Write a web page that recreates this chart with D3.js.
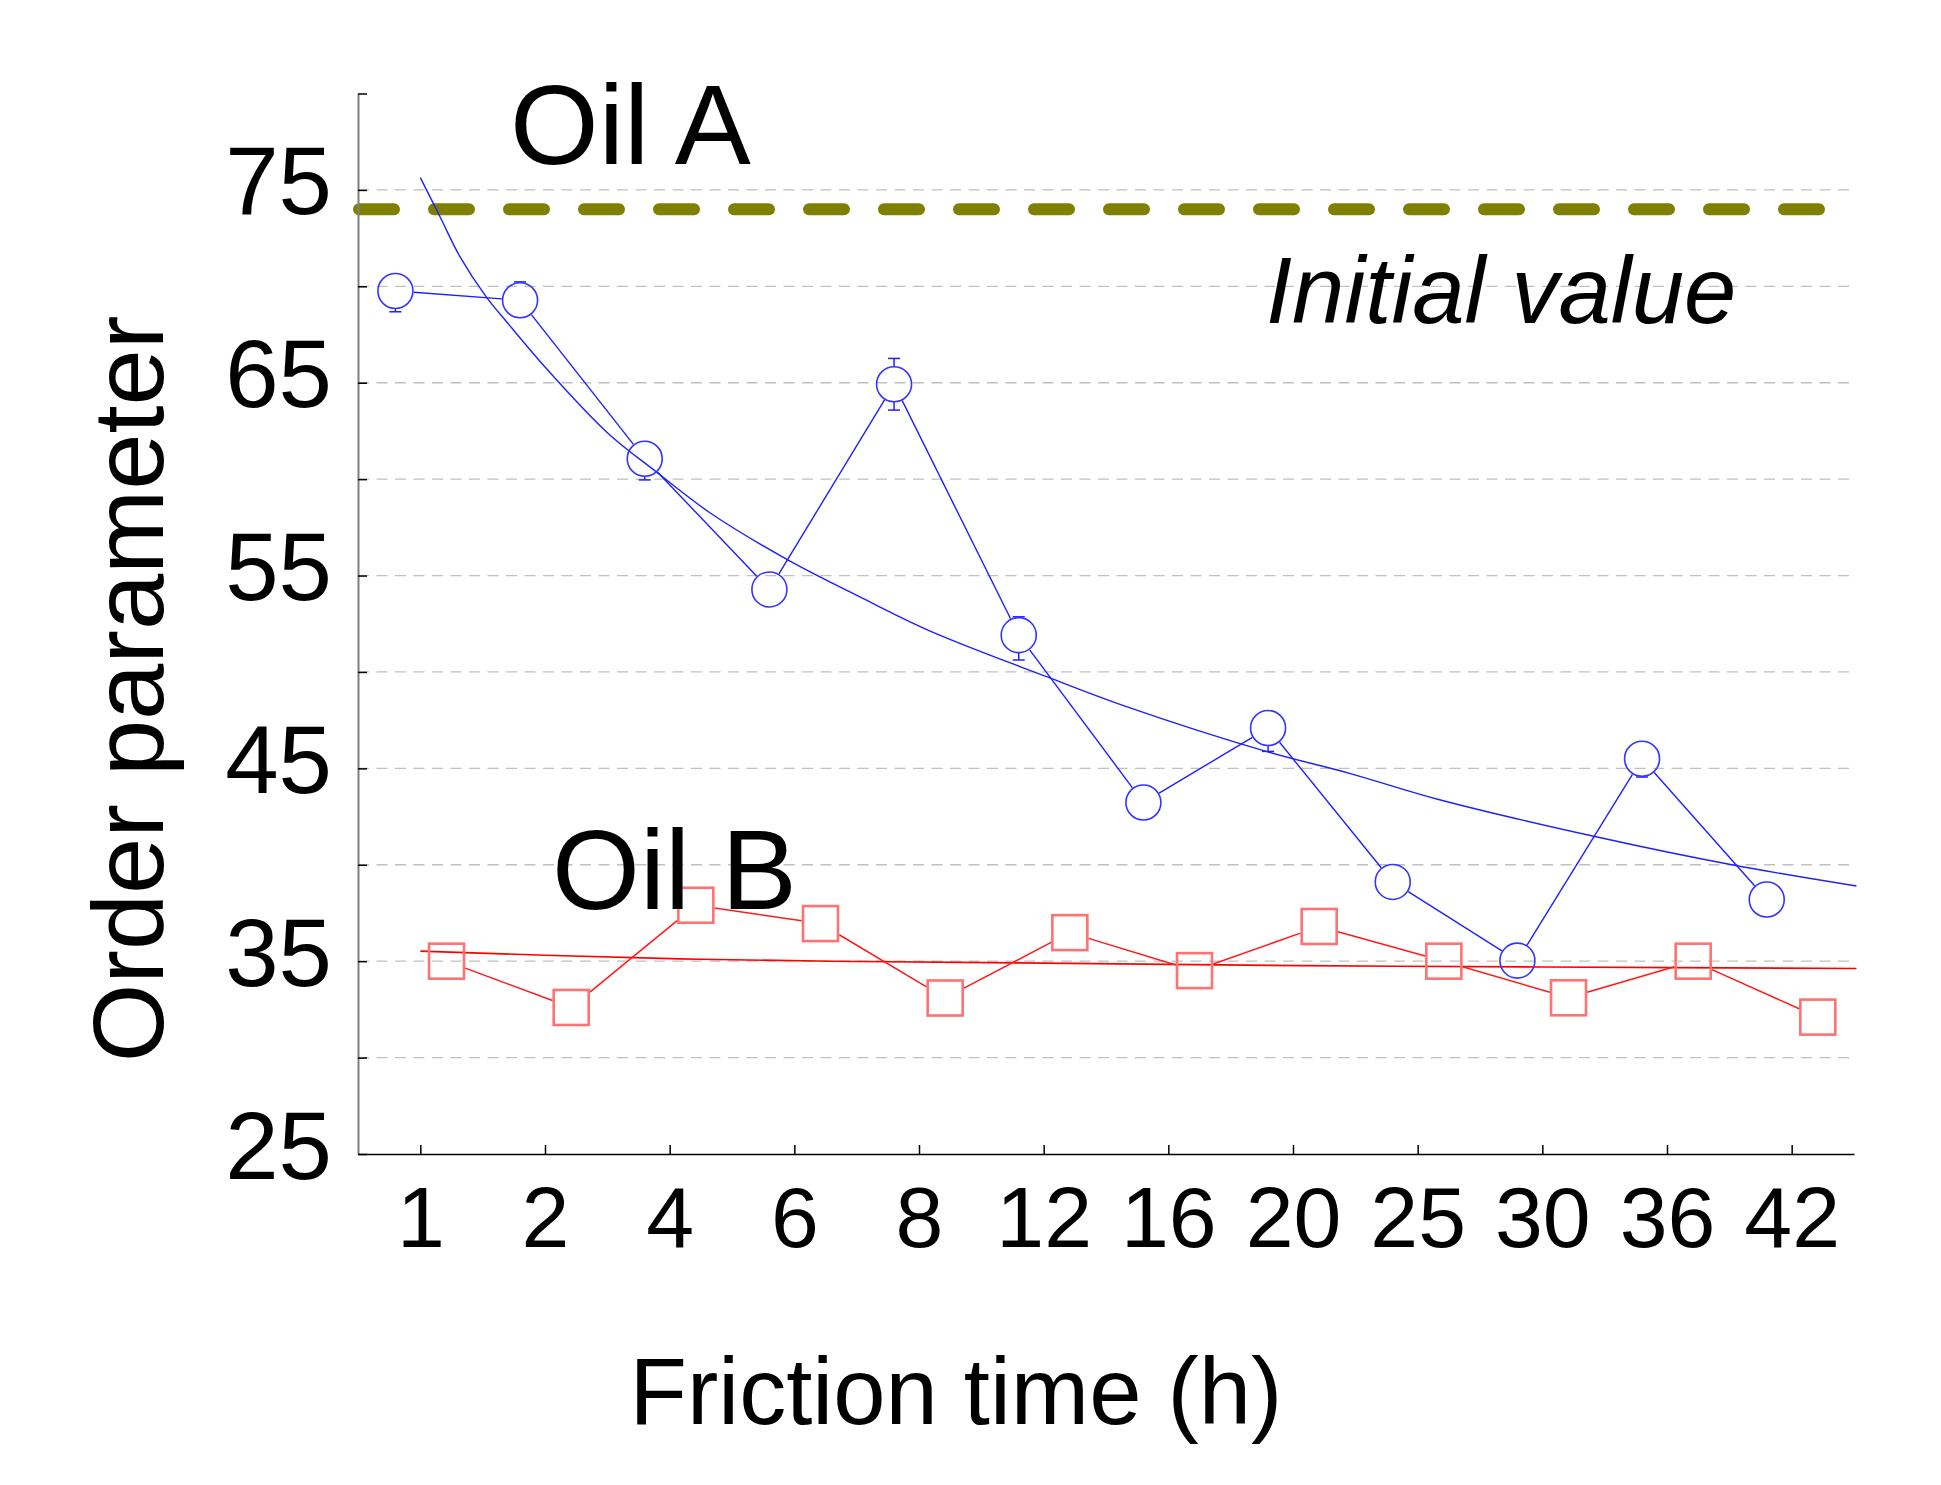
<!DOCTYPE html>
<html>
<head>
<meta charset="utf-8">
<script src="https://cdn.jsdelivr.net/npm/d3@7"></script>
<style>
  html, body { margin: 0; padding: 0; background: #fff; }
  svg { display: block; }
</style>
</head>
<body>
<script>
// ---------------- DATA ----------------
const categories = ["1", "2", "4", "6", "8", "12", "16", "20", "25", "30", "36", "42"];
const oilA = [69.76, 69.28, 61.06, 54.28, 64.92, 51.91, 43.23, 47.09, 39.11, 35.03, 45.5, 38.2];
const oilAErrUp = [0, 0.95, 0, 0, 1.34, 0.95, 0, 0, 0, 0, 0, 0];
const oilAErrDown = [1.08, 0, 1.1, 0, 1.34, 1.29, 0, 1.21, 0, 0, 0.95, 0];
const oilB = [35.0, 32.6, 37.9, 36.95, 33.09, 36.48, 34.51, 36.8, 35.0, 33.1, 35.0, 32.1];
// fitted trend curves: [category index position, value]
const fitA = [[0, 75.64], [0.16, 73.58], [0.32, 71.51], [0.53, 69.44], [0.70, 68.10], [1.02, 65.67],
  [1.50, 62.41], [1.90, 60.34], [2.32, 58.27], [2.94, 55.84], [3.53, 53.88], [4.09, 52.12],
  [5.03, 49.74], [5.67, 48.19], [6.79, 45.87], [7.46, 44.73], [8.16, 43.4], [9.44, 41.44],
  [10.52, 40.0], [11.52, 38.9]];
const fitB = [[0, 35.52], [1, 35.31], [2.08, 35.12], [3.3, 35.0], [5, 34.9], [7.06, 34.77], [9, 34.7], [11.52, 34.62]];
const initialValue = 74.0;
const yTickValues = [25, 30, 35, 40, 45, 50, 55, 60, 65, 70, 75, 80];
const yTickLabels = [25, 35, 45, 55, 65, 75];
const gridValues = [30, 35, 40, 45, 50, 55, 60, 65, 70, 75];
const labels = { oilA: "Oil A", oilB: "Oil B", initial: "Initial value", xTitle: "Friction time (h)", yTitle: "Order parameter" };

// ---------------- LAYOUT ----------------
const W = 1941, H = 1485;
const FONT = "'Liberation Sans', Arial, Helvetica, sans-serif";
const svg = d3.select("body").append("svg").attr("width", W).attr("height", H);
svg.append("rect").attr("width", W).attr("height", H).attr("fill", "#fff");

const x = d3.scalePoint().domain(categories).range([358, 1854]).padding(0.5);
const y = d3.scaleLinear().domain([25, 80]).range([1154, 93.5]);
const step = x.step();
const xi = d3.scaleLinear().domain([0, categories.length - 1])
  .range([x(categories[0]), x(categories[categories.length - 1])]);
const offA = -0.2 * step, offB = 0.21 * step;

// grid
svg.append("g").selectAll("line").data(gridValues).join("line")
  .attr("x1", 358).attr("x2", 1850)
  .attr("y1", d => y(d)).attr("y2", d => y(d))
  .attr("stroke", "#c0c0c0").attr("stroke-width", 1.3).attr("stroke-dasharray", "11,7.5");

// initial value dashed line
svg.append("line")
  .attr("x1", 359).attr("x2", 1819)
  .attr("y1", y(initialValue)).attr("y2", y(initialValue))
  .attr("stroke", "#808000").attr("stroke-width", 12)
  .attr("stroke-linecap", "round").attr("stroke-dasharray", "35,40");

// axes
const yAxis = d3.axisLeft(y).tickValues(yTickValues).tickSizeInner(-9).tickSizeOuter(0).tickPadding(26)
  .tickFormat(d => yTickLabels.includes(d) ? String(d) : "");
const gY = svg.append("g").attr("transform", "translate(358,0)").call(yAxis);
gY.select(".domain").attr("stroke", "#7f7f7f").attr("stroke-width", 2);
gY.selectAll(".tick line").attr("stroke", "#000").attr("stroke-width", 1.5);
gY.selectAll(".tick text").attr("font-size", 96).attr("font-family", FONT).attr("fill", "#000")
  .attr("dy", 0).attr("y", 24);

const xAxis = d3.axisBottom(x).tickSizeInner(-9).tickSizeOuter(0).tickPadding(0);
const gX = svg.append("g").attr("transform", `translate(0,${y(25)})`).call(xAxis);
gX.select(".domain").attr("stroke", "#000").attr("stroke-width", 1.6);
gX.selectAll(".tick line").attr("stroke", "#000").attr("stroke-width", 1.5);
gX.selectAll(".tick text").attr("font-size", 86).attr("font-family", FONT).attr("fill", "#000")
  .attr("dy", 0).attr("y", 92.7);

// fit curves
const fitLine = d3.line().x(d => xi(d[0])).y(d => y(d[1])).curve(d3.curveCatmullRom.alpha(0.5));
svg.append("path").attr("d", fitLine(fitA)).attr("fill", "none").attr("stroke", "#1f1fff").attr("stroke-width", 1.4);
svg.append("path").attr("d", fitLine(fitB)).attr("fill", "none").attr("stroke", "#ff0000").attr("stroke-width", 1.6);

// marker positions
const ptsA = categories.map((c, i) => ({ cx: x(c) + offA, cy: y(oilA[i]), i }));
const ptsB = categories.map((c, i) => ({ cx: x(c) + offB, cy: y(oilB[i]), i }));
const R = 17.5, HALF = 17.5;

function segments(pts, shrink) {
  return d3.pairs(pts).map(([a, b]) => {
    const dx = b.cx - a.cx, dy = b.cy - a.cy, L = Math.hypot(dx, dy);
    const ux = dx / L, uy = dy / L, s = shrink(ux, uy);
    return { x1: a.cx + ux * s, y1: a.cy + uy * s, x2: b.cx - ux * s, y2: b.cy - uy * s };
  });
}
const segA = segments(ptsA, () => R + 0.8);
const segB = segments(ptsB, (ux, uy) => (HALF + 1.2) / Math.max(Math.abs(ux), Math.abs(uy)));

svg.append("g").selectAll("line").data(segA).join("line")
  .attr("x1", d => d.x1).attr("y1", d => d.y1).attr("x2", d => d.x2).attr("y2", d => d.y2)
  .attr("stroke", "#1f1fff").attr("stroke-width", 1.4);
svg.append("g").selectAll("line").data(segB).join("line")
  .attr("x1", d => d.x1).attr("y1", d => d.y1).attr("x2", d => d.x2).attr("y2", d => d.y2)
  .attr("stroke", "#ff1a1a").attr("stroke-width", 1.5);

// error bars (outside the circle)
const eb = svg.append("g").attr("stroke", "#2020ff").attr("stroke-width", 1.5);
ptsA.forEach(p => {
  const v = oilA[p.i];
  if (oilAErrUp[p.i] > 0) {
    const ye = y(v + oilAErrUp[p.i]);
    eb.append("line").attr("x1", p.cx).attr("x2", p.cx).attr("y1", p.cy - R).attr("y2", ye);
    eb.append("line").attr("x1", p.cx - 6).attr("x2", p.cx + 6).attr("y1", ye).attr("y2", ye);
  }
  if (oilAErrDown[p.i] > 0) {
    const ye = y(v - oilAErrDown[p.i]);
    eb.append("line").attr("x1", p.cx).attr("x2", p.cx).attr("y1", p.cy + R).attr("y2", ye);
    eb.append("line").attr("x1", p.cx - 6).attr("x2", p.cx + 6).attr("y1", ye).attr("y2", ye);
  }
});

// markers
svg.append("g").selectAll("circle").data(ptsA).join("circle")
  .attr("cx", d => d.cx).attr("cy", d => d.cy).attr("r", R)
  .attr("fill", "none").attr("stroke", "#3535ff").attr("stroke-width", 1.6);
svg.append("g").selectAll("rect").data(ptsB).join("rect")
  .attr("x", d => d.cx - HALF).attr("y", d => d.cy - HALF)
  .attr("width", HALF * 2).attr("height", HALF * 2)
  .attr("fill", "none").attr("stroke", "#ff7272").attr("stroke-width", 2.6);

// texts
svg.append("text").attr("x", 510).attr("y", 163.5).attr("font-size", 114).attr("font-family", FONT)
  .attr("fill", "#000").text(labels.oilA);
svg.append("text").attr("x", 552).attr("y", 909).attr("font-size", 113).attr("font-family", FONT)
  .attr("fill", "#000").text(labels.oilB);
svg.append("text").attr("x", 1266).attr("y", 322.7).attr("font-size", 94).attr("font-style", "italic")
  .attr("font-family", FONT).attr("fill", "#000").text(labels.initial);
svg.append("text").attr("x", 956).attr("y", 1424).attr("font-size", 94).attr("text-anchor", "middle")
  .attr("font-family", FONT).attr("fill", "#000").text(labels.xTitle);
svg.append("text").attr("transform", "translate(163.4,689) rotate(-90)").attr("font-size", 101)
  .attr("text-anchor", "middle").attr("font-family", FONT).attr("fill", "#000").text(labels.yTitle);
</script>
</body>
</html>
